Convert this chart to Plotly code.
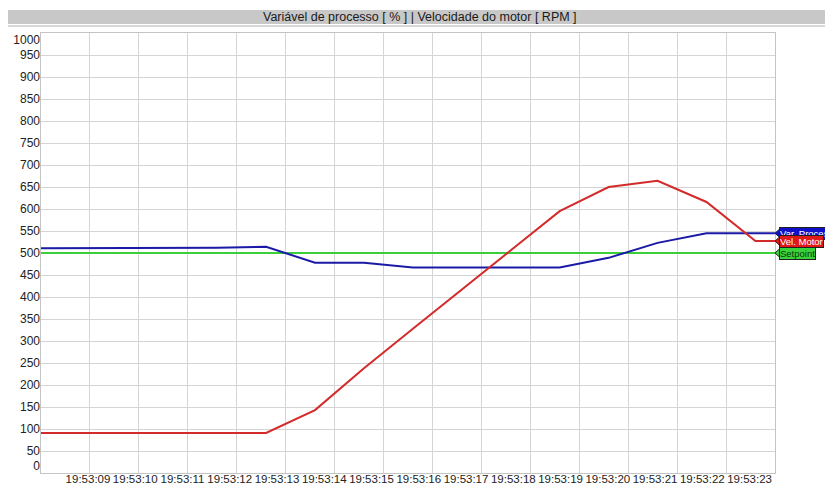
import plotly.graph_objects as go

# ---- data (seconds after 19:53:00) ----
sample_sec = [8.0, 8.6, 9.6, 10.6, 11.6, 12.6, 13.6, 14.6, 15.6, 16.6, 17.6, 18.6, 19.6, 20.6, 21.6, 22.6, 23.0]
var_processo = [511, 511, 511, 511, 512, 514, 478, 478, 467, 467, 467, 467, 489, 523, 545, 545, 545]
vel_motor = [91, 91, 91, 91, 91, 91, 143, 238, 328, 417, 507, 595, 650, 664, 616, 527, 527]
setpoint = [500] * len(sample_sec)

tick_labels = ["19:53:%02d" % s for s in range(9, 24)]
y_labels = [str(v) for v in range(0, 1001, 50)]

title_text = "Variável de processo [ % ] | Velocidade do motor [ RPM ]"

# ---- geometry (page pixels; the html body adds an 8px offset) ----
OFF = 8
W, H = 833 - OFF, 486 - OFF
PL, PR, PT, PB = 41, 775, 33, 473          # plot box in page pixels
L, R, T, B = PL - OFF, W - (PR - OFF), PT - OFF, H - (PB - OFF)
pw, ph = PR - PL, PB - PT

def px_x(x):
    return (x - PL) / pw

def px_y(y):
    return (PB - y) / ph

FONT = "Liberation Sans, Arial, sans-serif"

fig = go.Figure()
fig.add_trace(go.Scatter(x=sample_sec, y=setpoint, mode="lines", name="Setpoint",
                         line=dict(color="#3ccf3c", width=2)))
fig.add_trace(go.Scatter(x=sample_sec, y=var_processo, mode="lines", name="Var. Processo",
                         line=dict(color="#1a1aa6", width=2)))
fig.add_trace(go.Scatter(x=sample_sec, y=vel_motor, mode="lines", name="Vel. Motor",
                         line=dict(color="#d42a2a", width=2)))
# helper (invisible) trace for the label axes
fig.add_trace(go.Scatter(x=[None], y=[None], xaxis="x2", yaxis="y2", showlegend=False,
                         hoverinfo="skip"))

# label positions (the chart's labelling is slightly compressed)
n = len(tick_labels)
label_pos = [8.96 + i * (22.48 - 8.96) / (n - 1) for i in range(n)]
yl_pos = [float(v) for v in range(0, 1001, 50)]
yl_pos[0] = 16.0
yl_pos[-1] = 984.0

grid = "#d4d4d4"
fig.update_layout(
    width=W, height=H,
    margin=dict(l=L, r=R, t=T, b=B, autoexpand=False),
    paper_bgcolor="white", plot_bgcolor="white",
    showlegend=False,
    font=dict(family=FONT, size=12, color="#222222"),
    xaxis=dict(range=[8, 23], tickmode="linear", tick0=9, dtick=1, showticklabels=False,
               showgrid=True, gridcolor=grid, gridwidth=1, zeroline=False,
               showline=True, linecolor="#c4c4c4", mirror=True, ticks=""),
    yaxis=dict(range=[0, 1000], tickmode="linear", tick0=0, dtick=50, showticklabels=False,
               showgrid=True, gridcolor=grid, gridwidth=1, zeroline=False,
               showline=True, linecolor="#c4c4c4", mirror=True, ticks=""),
    xaxis2=dict(range=[8, 23], overlaying="x", anchor="y", side="bottom",
                tickmode="array", tickvals=label_pos, ticktext=tick_labels,
                tickangle=0, showgrid=False, zeroline=False, showline=False,
                ticks="", ticklabelstandoff=-3,
                tickfont=dict(size=11.5, color="#222222")),
    yaxis2=dict(range=[0, 1000], overlaying="y", anchor="x", side="left",
                tickmode="array", tickvals=yl_pos, ticktext=y_labels,
                showgrid=False, zeroline=False, showline=False, ticks="",
                tickfont=dict(size=12, color="#222222")),
)

shapes = []
# header bar
shapes.append(dict(type="rect", xref="paper", yref="paper",
                   x0=px_x(8), x1=px_x(833), y0=px_y(24), y1=px_y(10),
                   fillcolor="#c8c8c8", line=dict(width=0), layer="below"))
shapes.append(dict(type="line", xref="paper", yref="paper",
                   x0=px_x(8), x1=px_x(833), y0=px_y(26), y1=px_y(26),
                   line=dict(color="#b0b0b0", width=1)))

annotations = [dict(xref="paper", yref="paper", x=px_x(420), y=px_y(17),
                    text=title_text, showarrow=False, xanchor="center", yanchor="middle",
                    font=dict(size=12.5, color="#1a1a1a"))]

tags = [
    ("Var. Proces", var_processo[-1], "#1010c8", "white"),
    ("Vel. Motor", vel_motor[-1], "#e01818", "white"),
    ("Setpoint", setpoint[-1], "#3ad23a", "#0a3a0a"),
]
hy = 4.5 / 0.44
for text, val, bg, fc in tags:
    shapes.append(dict(type="path", xref="paper", yref="y",
                       path="M %f,%f L %f,%f L %f,%f Z" % (px_x(775), val, px_x(780), val + hy,
                                                           px_x(780), val - hy),
                       fillcolor=bg, line=dict(color="#202020", width=1)))
    annotations.append(dict(xref="paper", yref="y", x=px_x(779), y=val, text=text,
                            showarrow=False, xanchor="left", yanchor="middle",
                            bgcolor=bg, bordercolor="#202020", borderwidth=1, borderpad=0,
                            font=dict(size=9.5, color=fc)))

fig.update_layout(shapes=shapes, annotations=annotations)
fig.write_html("out.html")
